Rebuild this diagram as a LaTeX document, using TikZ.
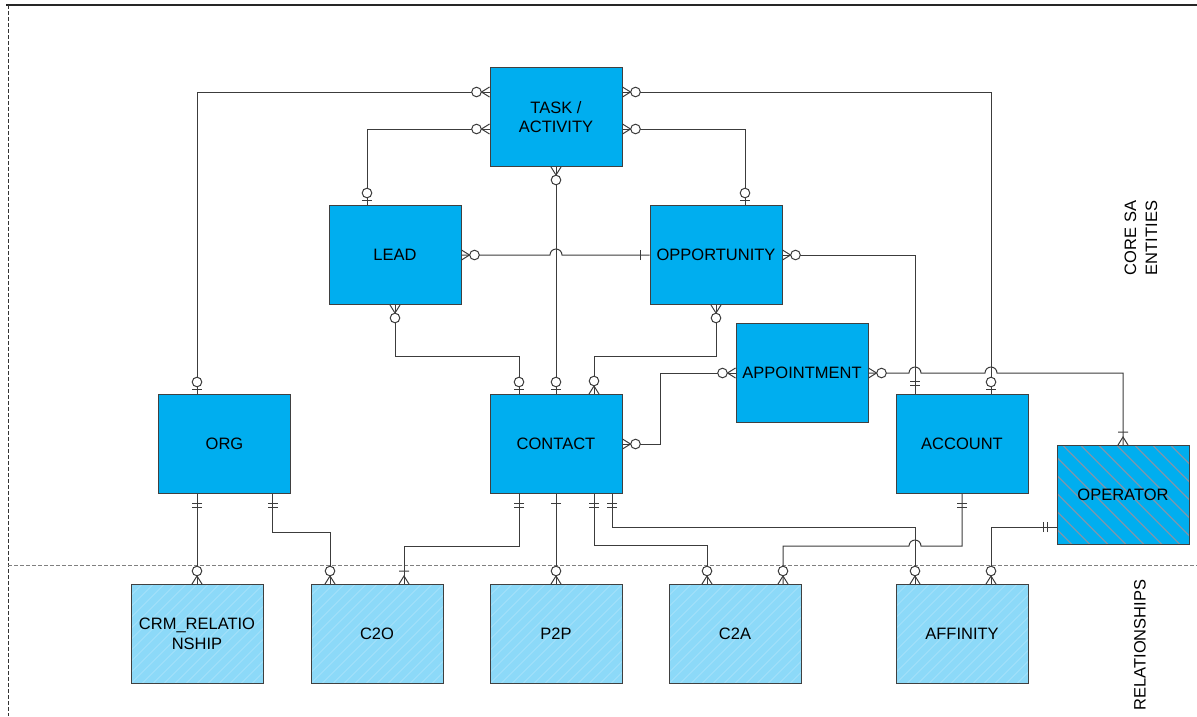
\documentclass[tikz,border=0pt]{standalone}
\usepackage{fontspec}
\setmainfont{Liberation Sans}
\usepackage{tikz}

\definecolor{coreblue}{RGB}{0,174,239}
\definecolor{relblue}{RGB}{140,217,248}
\definecolor{hatchgray}{RGB}{125,150,172}
\definecolor{linegray}{RGB}{60,60,60}

\tikzset{
  conn/.style={draw=linegray, line width=1pt},
  ent/.style={draw=black!75, line width=1pt, fill=coreblue, minimum width=132pt,
    minimum height=99pt, align=center, inner sep=0pt, font=\fontsize{16.5}{19.5}\selectfont},
  rel/.style={ent, fill=relblue, path picture={
    \foreach \i in {-110,-99,...,140}
      \draw[white, opacity=0.3, line width=0.6pt] ([xshift=\i]path picture bounding box.south west) -- ++(120,120);}},
  opr/.style={ent, path picture={
    \foreach \i in {-120,-102,...,140}
      \draw[hatchgray, line width=1.2pt] ([xshift=\i]path picture bounding box.north west) -- ++(120,-120);}},
  % ER end markers, drawn pointing out of the box along +x
  cmany/.pic={\draw[conn] (0,5) -- (8,0) -- (0,-5); \draw[conn, fill=white] (13,0) circle (4.8);},
  cone/.pic={\draw[conn] (5,5) -- (5,-5); \draw[conn, fill=white] (12,0) circle (4.8);},
  onlyone/.pic={\draw[conn] (9,5) -- (9,-5);},
  twobar/.pic={\draw[conn] (9,5) -- (9,-5) (13,5) -- (13,-5);},
  onemany/.pic={\draw[conn] (0,5) -- (8,0) -- (0,-5) (13,5) -- (13,-5);}
}

\begin{document}
\begin{tikzpicture}[x=1pt, y=1pt]
		\useasboundingbox (0,0) rectangle (1197,-716);
		% frame and separator
		\draw[line width=2pt, black!85] (6,-5) -- (1197,-5);
		\draw[black!80, dash pattern=on 4pt off 2pt] (8,-5) -- (8,-716);
		\draw[gray, dash pattern=on 4pt off 2pt] (8,-565) -- (1197,-565);
		\node[rotate=90, align=center, font=\fontsize{16.5}{21}\selectfont] (coresa) at (1141,-238) {CORE SA\\ENTITIES};
		\node[rotate=90, font=\fontsize{16.5}{19.5}\selectfont] (rels) at (1140,-645) {RELATIONSHIPS};

		% core entities
		\node[ent] (task) at (556,-117) {TASK /\\ACTIVITY};
		\node[ent] (lead) at (395,-255) {LEAD};
		\node[ent] (opp) at (716,-255) {OPPORTUNITY};
		\node[ent] (appt) at (802,-373) {APPOINTMENT};
		\node[ent] (org) at (224.5,-444) {ORG};
		\node[ent] (contact) at (556,-444) {CONTACT};
		\node[ent] (account) at (962,-444) {ACCOUNT};
		\node[opr] (operator) at (1123,-495) {OPERATOR};

		% relationships
		\node[rel] (crm) at (197,-634) {CRM\_RELATIO\\NSHIP};
		\node[rel] (ctwoo) at (377,-634) {C2O};
		\node[rel] (ptwop) at (556,-634) {P2P};
		\node[rel] (ctwoa) at (735,-634) {C2A};
		\node[rel] (affinity) at (962,-634) {AFFINITY};

		% org -- task
		\draw[conn] ([xshift=-27.5pt]org.north) |- ([yshift=25pt]task.west);
		\pic[rotate=90] at ([xshift=-27.5pt]org.north) {cone};
		\pic[rotate=180] at ([yshift=25pt]task.west) {cmany};
		% lead -- task
		\draw[conn] ([xshift=-28pt]lead.north) |- ([yshift=-12pt]task.west);
		\pic[rotate=90] at ([xshift=-28pt]lead.north) {cone};
		\pic[rotate=180] at ([yshift=-12pt]task.west) {cmany};
		% task -- account
		\draw[conn] ([yshift=25pt]task.east) -| ([xshift=29pt]account.north);
		\pic at ([yshift=25pt]task.east) {cmany};
		\pic[rotate=90] at ([xshift=29pt]account.north) {cone};
		% task -- opp
		\draw[conn] ([yshift=-12pt]task.east) -| ([xshift=29pt]opp.north);
		\pic at ([yshift=-12pt]task.east) {cmany};
		\pic[rotate=90] at ([xshift=29pt]opp.north) {cone};
		% task -- contact
		\draw[conn] (task.south) -- (contact.north);
		\pic[rotate=-90] at (task.south) {cmany};
		\pic[rotate=90] at (contact.north) {cone};
		% lead -- opp
		\draw[conn] (lead.east) -- (550,-255) arc[start angle=180, end angle=0, radius=6] -- (opp.west);
		\pic at (lead.east) {cmany};
		\pic[rotate=180] at (opp.west) {onlyone};
		% lead -- contact
		\draw[conn] (lead.south) -- ++(0,-51) -| ([xshift=-37pt]contact.north);
		\pic[rotate=-90] at (lead.south) {cmany};
		\pic[rotate=90] at ([xshift=-37pt]contact.north) {cone};
		% opp -- contact
		\draw[conn] (opp.south) -- ++(0,-51) -| ([xshift=38pt]contact.north);
		\pic[rotate=-90] at (opp.south) {cmany};
		\pic[rotate=90] at ([xshift=38pt]contact.north) {cmany};
		% contact -- appt
		\draw[conn] (contact.east) -- ++(38,0) |- (appt.west);
		\pic at (contact.east) {cmany};
		\pic[rotate=180] at (appt.west) {cmany};
		% appt -- operator
		\draw[conn] (appt.east) -- (909,-373) arc[start angle=180, end angle=0, radius=6]
			-- (985,-373) arc[start angle=180, end angle=0, radius=6] -| (operator.north);
		\pic at (appt.east) {cmany};
		\pic[rotate=90] at (operator.north) {onemany};
		% opp -- account
		\draw[conn] (opp.east) -| ([xshift=-47pt]account.north);
		\pic at (opp.east) {cmany};
		\pic[rotate=90] at ([xshift=-47pt]account.north) {twobar};

		% org -- crm
		\draw[conn] ([xshift=-27.5pt]org.south) -- (crm.north);
		\pic[rotate=-90] at ([xshift=-27.5pt]org.south) {twobar};
		\pic[rotate=90] at (crm.north) {cmany};
		% org -- c2o
		\draw[conn] ([xshift=48pt]org.south) -- ++(0,-38) -| ([xshift=-47pt]ctwoo.north);
		\pic[rotate=-90] at ([xshift=48pt]org.south) {twobar};
		\pic[rotate=90] at ([xshift=-47pt]ctwoo.north) {cmany};
		% contact -- c2o
		\draw[conn] ([xshift=-37pt]contact.south) -- ++(0,-52) -| ([xshift=27pt]ctwoo.north);
		\pic[rotate=-90] at ([xshift=-37pt]contact.south) {twobar};
		\pic[rotate=90] at ([xshift=27pt]ctwoo.north) {onemany};
		% contact -- p2p
		\draw[conn] (contact.south) -- (ptwop.north);
		\pic[rotate=-90] at (contact.south) {onlyone};
		\pic[rotate=90] at (ptwop.north) {cmany};
		% contact -- c2a
		\draw[conn] ([xshift=38pt]contact.south) -- ++(0,-51) -| ([xshift=-28pt]ctwoa.north);
		\pic[rotate=-90] at ([xshift=38pt]contact.south) {twobar};
		\pic[rotate=90] at ([xshift=-28pt]ctwoa.north) {cmany};
		% contact -- affinity
		\draw[conn] ([xshift=56pt]contact.south) -- ++(0,-33) -| ([xshift=-47pt]affinity.north);
		\pic[rotate=-90] at ([xshift=56pt]contact.south) {twobar};
		\pic[rotate=90] at ([xshift=-47pt]affinity.north) {cmany};
		% account -- c2a
		\draw[conn] (account.south) -- ++(0,-52) -- ++(-41,0) arc[start angle=0, end angle=180, radius=6]
			-| ([xshift=48pt]ctwoa.north);
		\pic[rotate=-90] at (account.south) {twobar};
		\pic[rotate=90] at ([xshift=48pt]ctwoa.north) {cmany};
		% operator -- affinity
		\draw[conn] ([yshift=-32pt]operator.west) -| ([xshift=29pt]affinity.north);
		\pic[rotate=180] at ([yshift=-32pt]operator.west) {twobar};
		\pic[rotate=90] at ([xshift=29pt]affinity.north) {cmany};
\end{tikzpicture}
\end{document}
